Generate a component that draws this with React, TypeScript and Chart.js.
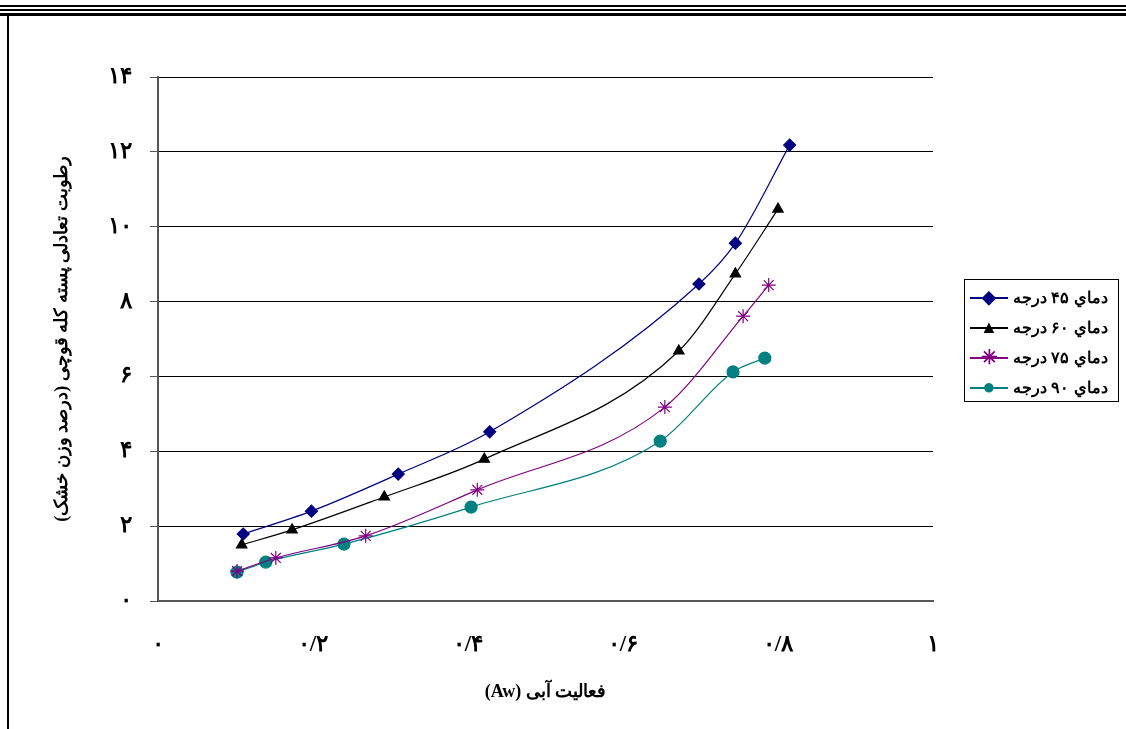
import React, { useEffect, useRef } from "react";
import { Chart, registerables } from "chart.js";
Chart.register(...registerables);

const xTickLabels = ["۰", "۰/۲", "۰/۴", "۰/۶", "۰/۸", "۱"];
const yTickLabels = ["۰", "۲", "۴", "۶", "۸", "۱۰", "۱۲", "۱۴"];
const seriesNames = ["دماي  ۴۵ درجه", "دماي  ۶۰ درجه", "دماي  ۷۵ درجه", "دماي  ۹۰ درجه"];
const s45x = [0.11, 0.198, 0.31, 0.428, 0.698, 0.745, 0.815];
const s45y = [1.79, 2.4, 3.39, 4.52, 8.47, 9.56, 12.18];
const s60x = [0.108, 0.173, 0.292, 0.421, 0.672, 0.745, 0.8];
const s60y = [1.5, 1.9, 2.78, 3.79, 6.68, 8.74, 10.47];
const s75x = [0.102, 0.152, 0.268, 0.412, 0.654, 0.755, 0.788];
const s75y = [0.8, 1.15, 1.74, 2.97, 5.18, 7.61, 8.44];
const s90x = [0.102, 0.139, 0.24, 0.404, 0.648, 0.742, 0.783];
const s90y = [0.77, 1.04, 1.52, 2.51, 4.27, 6.12, 6.49];

const colors = ["#000080", "#000000", "#800080", "#008080"];
const pstyles = ["rectRot", "triangle", "star", "circle"];
const psize = [6, 6, 7, 6];
const glyphs = ["◆", "▲", "✳", "●"];
const gsize = [18, 18, 20, 22];

export default function App() {
  const ref = useRef<HTMLCanvasElement>(null);
  useEffect(() => {
    const xs = [s45x, s60x, s75x, s90x];
    const ys = [s45y, s60y, s75y, s90y];
    const font = { family: "Liberation Serif", weight: "bold" as const, size: 23 };
    const chart = new Chart(ref.current!, {
      type: "line",
      data: {
        datasets: xs.map((x, i) => ({
          label: seriesNames[i],
          data: x.map((v, j) => ({ x: v, y: ys[i][j] })),
          borderColor: colors[i],
          backgroundColor: colors[i],
          pointBackgroundColor: colors[i],
          pointBorderColor: colors[i],
          pointStyle: pstyles[i] as any,
          pointRadius: psize[i],
          borderWidth: 1.2,
          cubicInterpolationMode: "monotone" as const,
        })),
      },
      options: {
        animation: false,
        responsive: false,
        layout: { padding: { left: 40, right: 185, top: 69, bottom: 22 } },
        plugins: { legend: { display: false }, tooltip: { enabled: false } },
        scales: {
          x: {
            type: "linear", min: 0, max: 1,
            ticks: { stepSize: 0.2, color: "#000", font, padding: 22,
              callback: (v: any) => xTickLabels[Math.round(Number(v) * 5)] },
            grid: { display: false, drawTicks: true, tickLength: 8, color: "#555" },
            border: { display: true, color: "#555", width: 2 },
            title: { display: true, text: "(Aw) فعاليت آبی", color: "#000",
              font: { family: "Liberation Serif", weight: "bold", size: 18 }, padding: { top: 10 } },
            afterFit: (s: any) => { s.height = 106; },
          },
          y: {
            min: 0, max: 14,
            ticks: { stepSize: 2, color: "#000", font, padding: 18,
              callback: (v: any) => yTickLabels[Math.round(Number(v) / 2)] },
            grid: { color: "#000", lineWidth: 1, tickLength: 8, tickColor: "#555" },
            border: { display: true, color: "#555", width: 2 },
            title: { display: true, text: "رطوبت تعادلی پسته کله قوچی (درصد وزن خشک)", color: "#000",
              font: { family: "Liberation Serif", weight: "bold", size: 18 } },
            afterFit: (s: any) => { s.width = 110; },
          },
        },
      },
    });
    return () => chart.destroy();
  }, []);
  return (
    <div style={{ position: "relative", width: 1110, height: 721 }}>
      <div style={{ position: "fixed", left: 0, top: 5, width: 1126, height: 2, background: "#000" }} />
      <div style={{ position: "fixed", left: 0, top: 9, width: 1126, height: 2, background: "#000" }} />
      <div style={{ position: "fixed", left: 0, top: 13, width: 1126, height: 3, background: "#000" }} />
      <div style={{ position: "fixed", left: 7, top: 16, width: 2, height: 713, background: "#000" }} />
      <canvas ref={ref} width={1110} height={721} />
      <div style={{ position: "fixed", left: 964, top: 279, width: 155, height: 123, border: "1px solid #000",
        fontFamily: "Liberation Sans", fontWeight: "bold", fontSize: 16, boxSizing: "border-box", padding: "2px 0 0 3px" }}>
        {seriesNames.map((n, i) => (
          <div key={i} style={{ display: "flex", alignItems: "center", height: 30 }}>
            <div style={{ position: "relative", width: 42, height: 22 }}>
              <div style={{ position: "absolute", left: 2, right: 2, top: 11, height: 1.5, background: colors[i] }} />
              <div style={{ position: "absolute", left: 0, width: 42, top: 0, textAlign: "center", color: colors[i], fontSize: gsize[i], lineHeight: "22px" }}>{glyphs[i]}</div>
            </div>
            <span dir="rtl" style={{ marginLeft: 3 }}>{n}</span>
          </div>
        ))}
      </div>
    </div>
  );
}
